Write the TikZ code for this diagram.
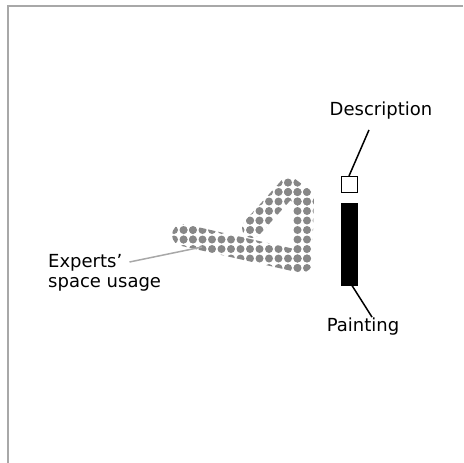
\documentclass[tikz,border=0pt]{standalone}
\usepackage{fontspec}
\setmainfont{DejaVu Sans}
\usetikzlibrary{calc,positioning}
\definecolor{frm}{HTML}{A8A8A8}
\definecolor{dotc}{HTML}{878787}
\tikzset{
  lbl/.style={font=\fontsize{18}{22}\selectfont,inner sep=0pt},
  lead/.style={line width=1.5pt,draw=black},
  glead/.style={line width=1.5pt,draw=frm},
  mark box/.style={draw=black,line width=1pt,minimum width=16pt,inner sep=0pt},
}
% grid of dots, clipped piece by piece below
\newcommand{\dotgrid}{%
  \foreach \i in {16,...,34}{\foreach \j in {17,...,30}{%
    \fill[dotc] ({3+9.5*\i},{2+9.5*\j}) circle[radius=4pt];}}}

\begin{document}
\begin{tikzpicture}[x=1pt,y=-1pt]
\useasboundingbox (0,0) rectangle (463,463);
\draw[frm,line width=2pt] (8,463) -- (8,6) -- (463,6);

% experts' path
\coordinate (pA) at (183,235);
\coordinate (pB) at (302,262);
\coordinate (pC) at (304,198);
\coordinate (pD) at (289,187);
\coordinate (pE) at (252,228);
\foreach \p/\q/\r in {pA/pB/11,pB/pC/10,pC/pD/10,pD/pE/10}{
  \begin{scope}
    \clip ($(\p)!\r pt!90:(\q)$) -- ($(\q)!\r pt!-90:(\p)$) -- ($(\q)!\r pt!90:(\p)$) -- ($(\p)!\r pt!-90:(\q)$) -- cycle;
    \dotgrid
  \end{scope}
}
\foreach \p/\r in {pA/11,pB/10.5,pC/10,pD/10,pE/10}{
  \begin{scope}
    \clip (\p) circle[radius=\r pt];
    \dotgrid
  \end{scope}
}

% painting and its description
\node[mark box,fill=white,minimum height=16pt] (dbox) at (349,184.5) {};
\node[mark box,fill=black,minimum height=82pt] (paint) at (349,244) {};

\node[lbl] (desc) at (381,111) {Description};
\node[lbl] (pnt) at (363,327) {Painting};
\node[lbl,anchor=west] (exp) at (48,263) {Experts’};
\node[lbl,anchor=west] (use) at (48,284) {space usage};

\coordinate (spot) at (202,247);
\draw[lead] (dbox.north) -- ([xshift=-12pt,yshift=-10pt]desc.south);
\draw[lead] ([xshift=3pt]paint.south) -- ([xshift=9pt,yshift=1pt]pnt.north);
\draw[glead] ([xshift=7pt,yshift=1pt]exp.east) -- (spot);
\end{tikzpicture}
\end{document}
